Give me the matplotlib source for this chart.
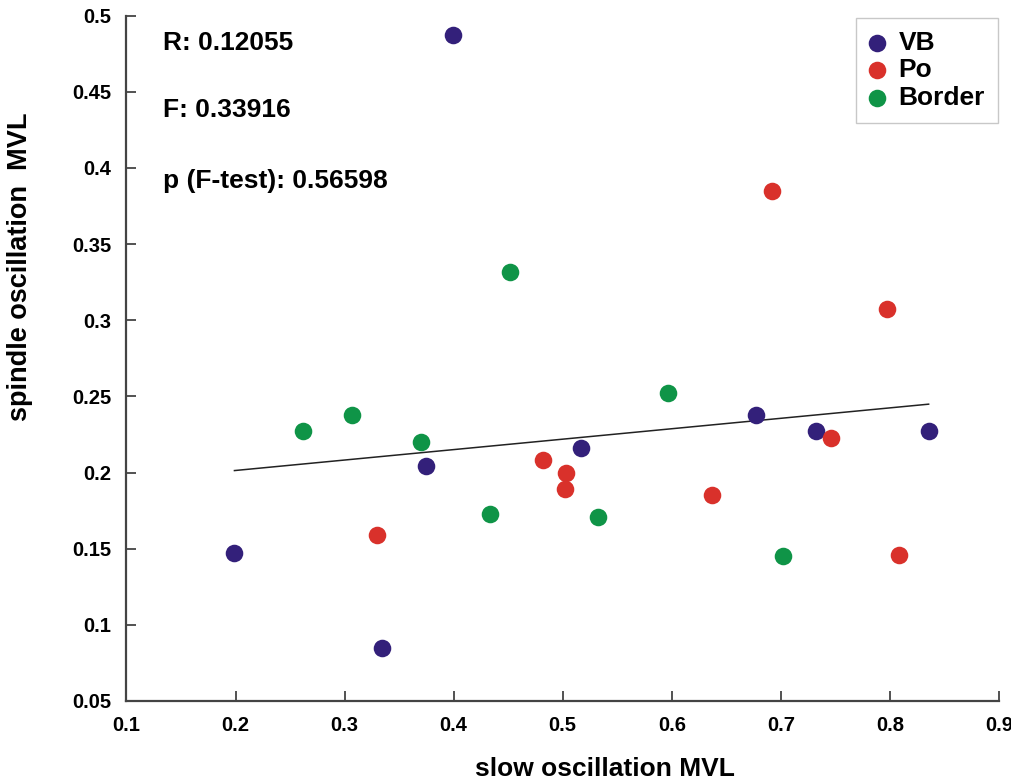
import numpy as np
import matplotlib
matplotlib.use("Agg")
import matplotlib.pyplot as plt

plt.rcParams['font.family'] = ['Liberation Sans', 'DejaVu Sans']
plt.rcParams['font.weight'] = 'bold'

# Data
vb_x = [0.399, 0.199, 0.334, 0.3745, 0.517, 0.677, 0.732, 0.8355]
vb_y = [0.487, 0.147, 0.085, 0.204, 0.216, 0.238, 0.227, 0.2275]

po_x = [0.692, 0.7975, 0.746, 0.637, 0.808, 0.482, 0.503, 0.502, 0.330]
po_y = [0.385, 0.3075, 0.223, 0.185, 0.146, 0.2085, 0.200, 0.189, 0.159]

bd_x = [0.452, 0.5965, 0.262, 0.307, 0.370, 0.433, 0.532, 0.702]
bd_y = [0.332, 0.2525, 0.227, 0.238, 0.220, 0.1725, 0.171, 0.145]

# fitted regression line (endpoints as shown in the reference)
fit_x = [0.199, 0.8355]
fit_y = [0.2013, 0.2449]

stats_text = ["R: 0.12055", "F: 0.33916", "p (F-test): 0.56598"]

xticks = [0.1, 0.2, 0.3, 0.4, 0.5, 0.6, 0.7, 0.8, 0.9]
yticks = [0.05, 0.1, 0.15, 0.2, 0.25, 0.3, 0.35, 0.4, 0.45, 0.5]

c_vb = '#33207a'
c_po = '#d9312b'
c_bd = '#0f9447'

fig = plt.figure(figsize=(10.11, 7.8), dpi=100)
ax = fig.add_axes([0.1251, 0.1013, 0.863, 0.8786])

ms = 160
ax.scatter(vb_x, vb_y, s=ms, color=c_vb, label='VB', zorder=3, linewidths=0)
ax.scatter(po_x, po_y, s=ms, color=c_po, label='Po', zorder=3, linewidths=0)
ax.scatter(bd_x, bd_y, s=ms, color=c_bd, label='Border', zorder=3, linewidths=0)

ax.plot(fit_x, fit_y, color='#222222', lw=1.1, zorder=2)

ax.set_xlim(0.1, 0.9)
ax.set_ylim(0.05, 0.5)
ax.set_xticks(xticks)
ax.set_yticks(yticks)
ax.set_xticklabels([f"{t:g}" for t in xticks])
ax.set_yticklabels([f"{t:g}" for t in yticks])

for s in ['top', 'right']:
    ax.spines[s].set_visible(False)
for s in ['left', 'bottom']:
    ax.spines[s].set_color('#444444')
    ax.spines[s].set_linewidth(1.6)

ax.tick_params(direction='in', length=7, width=1.3, color='#444444',
               labelsize=14.5, pad=11)
for lab in ax.get_xticklabels() + ax.get_yticklabels():
    lab.set_fontweight('bold')

ax.set_xlabel('slow oscillation MVL', fontsize=19, fontweight='bold')
ax.set_ylabel('spindle oscillation  MVL', fontsize=19.5, fontweight='bold')
ax.xaxis.set_label_coords(0.548, -0.082)
ax.yaxis.set_label_coords(-0.107, 0.633)

ys = [0.960, 0.8625, 0.759]
for t, yy in zip(stats_text, ys):
    ax.text(0.0418, yy, t, transform=ax.transAxes, fontsize=19,
            fontweight='bold', va='center', ha='left')

leg = ax.legend(loc='upper right', bbox_to_anchor=(0.9989, 0.9966),
                borderaxespad=0, frameon=True,
                fancybox=False, prop={'size': 19, 'weight': 'bold'},
                handletextpad=0.5, borderpad=0.5, labelspacing=0.12,
                handlelength=0.6, markerscale=1.0)
leg.get_frame().set_edgecolor('#bbbbbb')
leg.get_frame().set_linewidth(1.0)

fig.savefig('out.png', dpi=100)
